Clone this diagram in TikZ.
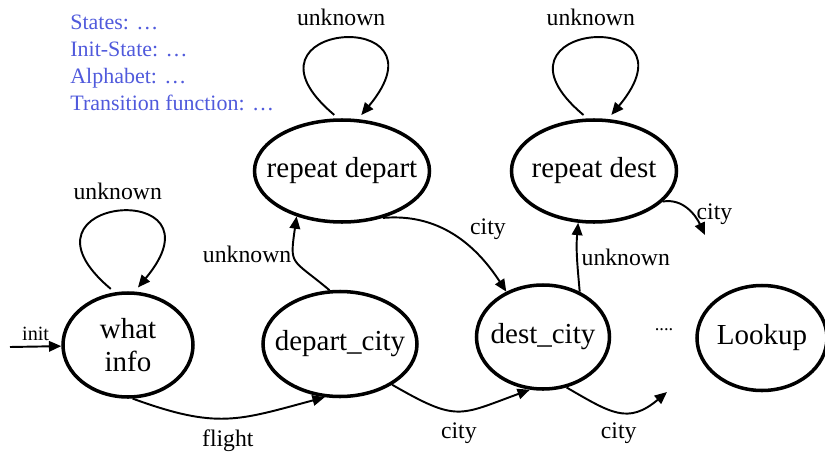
\documentclass[tikz,border=0pt]{standalone}
\usepackage{fontspec}
\setmainfont{Liberation Serif}
\usetikzlibrary{shapes.geometric, arrows.meta}

\definecolor{infoblue}{RGB}{80,90,220}
% state names get no width, so the ellipse keeps its given size
\newcommand{\sname}[1]{\makebox[0pt]{#1}}

\begin{document}
\begin{tikzpicture}[
    state/.style={draw, ellipse, line width=2pt, inner sep=0pt, font=\fontsize{16.5}{19}\selectfont},
    edge/.style={line width=1.1pt, -{Triangle[length=7pt, width=6pt]}},
    selfloop/.style={edge, shorten <=3pt, shorten >=3pt},
    elabel/.style={font=\fontsize{13.5}{16}\selectfont, inner sep=2pt}
]
    \useasboundingbox (0, 0) rectangle (16.5, -9.06);

    % Definition of the automaton
    \node[anchor=north west, align=left, inner sep=0pt, text=infoblue,
          font=\fontsize{12.5}{15.3}\selectfont] (spec) at (1.4, -0.3)
        {States: …\\Init-State: …\\Alphabet: …\\Transition function: …};

    % States
    \node[state, align=center, minimum width=2.6cm, minimum height=2.08cm] (what) at (2.56, -6.9) {what\\info};
    \node[state, minimum width=3.08cm, minimum height=2.1cm] (depart) at (6.8, -6.88) {\sname{depart\_city}};
    \node[state, minimum width=3.5cm, minimum height=2.04cm] (repdepart) at (6.84, -3.42) {\sname{repeat depart}};
    \node[state, minimum width=2.66cm, minimum height=2.08cm] (dest) at (10.86, -6.74) {\sname{dest\_city}};
    \node[state, minimum width=3.3cm, minimum height=2.04cm] (repdest) at (11.88, -3.42) {\sname{repeat dest}};
    \node[state, minimum width=2.6cm, minimum height=2.1cm] (lookup) at (15.24, -6.76) {\sname{Lookup}};
    \node[anchor=base, inner sep=0pt, font=\fontsize{10.5}{12}\selectfont] (dots) at (13.28, -6.6) {....};

    % Free ends
    \coordinate (start) at (0.2, -6.94);
    \coordinate (exitA) at (13.34, -7.84);
    \coordinate (exitB) at (14.1, -4.7);

    % Self loops
    \draw[selfloop] (what.104) .. controls +(140:3) and +(50:3) .. node[elabel, above=5pt] {unknown} (what.83);
    \draw[selfloop] (repdepart.94) .. controls +(140:3) and +(50:3) .. node[elabel, above=5pt] {unknown} (repdepart.73);
    \draw[selfloop] (repdest.97) .. controls +(140:3) and +(50:3) .. node[elabel, above=5pt] {unknown} (repdest.75);

    % Transitions
    \draw[edge] (start) -- node[above=3pt, inner sep=0pt, font=\fontsize{11.5}{14}\selectfont] {init} (what);
    \draw[edge] (what.-85) to[out=-20, in=195, looseness=1.2] node[elabel, below=4pt] {flight} (depart.-106);
    \draw[edge] (depart.-38) to[out=-30, in=200, looseness=1.4] node[elabel, below=4pt] {city} (dest.-104);
    \draw[edge] (dest.-65) to[out=-30, in=220, looseness=1.3] node[elabel, below=4pt] {city} (exitA);
    \draw[edge] (depart.101) to[out=140, in=262, looseness=1.6] node[elabel, pos=0.6, left, inner sep=1pt] {unknown} (repdepart.225);
    \draw[edge] (repdepart.-49) to[out=5, in=123] node[elabel, pos=0.6, above right] {city} (dest.129);
    \draw[edge] (dest.51) to[out=95, in=265] node[elabel, right] {unknown} (repdest.-107);
    \draw[edge] (repdest.-24) to[out=10, in=115] node[elabel, pos=0.6, right] {city} (exitB);
\end{tikzpicture}
\end{document}
